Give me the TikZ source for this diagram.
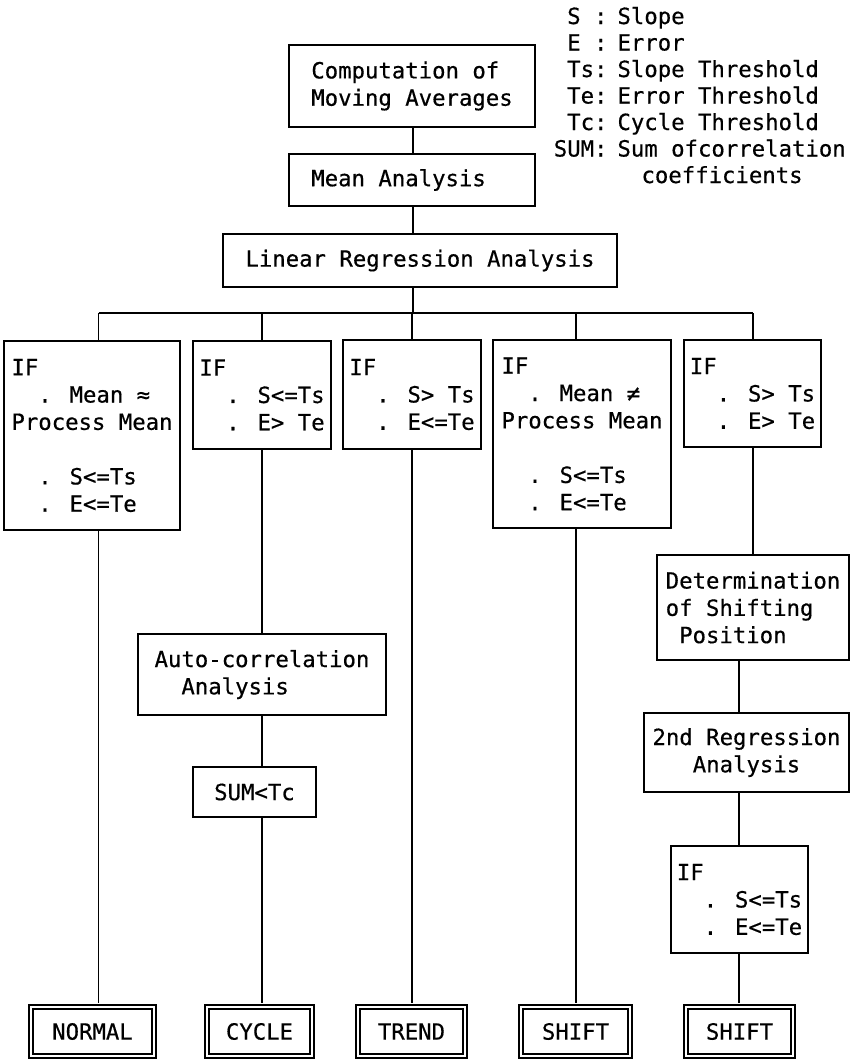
\documentclass[tikz,border=0pt]{standalone}
\usepackage{fontspec}
\usepackage{tikz}
\newfontfamily\flowfont[FakeBold=0.5]{DejaVu Sans Mono}
\def\flowsize{\flowfont\fontsize{22.3}{27.3}\selectfont}
\tikzset{
	box/.style={draw, line width=1.6pt, inner sep=0pt, align=left, font=\flowsize},
	endbox/.style={box, double, double distance=2.3pt, align=center},
	wire/.style={line width=1.5pt},
	lastwire/.style={wire, shorten >=2.8pt},
}

\begin{document}
\begin{tikzpicture}[x=1pt, y=-1pt]
		%%%%% START %%%%%
		\useasboundingbox (0,0) rectangle (864,1061);
		
		\node[anchor=base west, inner sep=0pt, font=\flowfont\fontsize{22.3}{26.5}\selectfont] (legend) at (553.6,24)
			{\begin{tabular}[t]{@{}r@{\hspace{10pt}}l@{}}
				S :& Slope\\
				E :& Error\\
				Ts:& Slope Threshold\\
				Te:& Error Threshold\\
				Tc:& Cycle Threshold\\
				SUM:& Sum ofcorrelation\\
				& \hspace{24pt}coefficients
			\end{tabular}};
		
		\node[box, minimum width=246pt, minimum height=82pt] (comp) at (412,86) {Computation of\\Moving Averages};
		\node[box, minimum width=246pt, minimum height=52pt] (mean) at (412,180) {Mean Analysis\hphantom{XX}};
		\node[box, minimum width=394pt, minimum height=53pt] (lin) at (420,260.5) {Linear Regression Analysis};
		
		\coordinate (bus) at (413,313);
		\coordinate (c1) at (98.5,313);
		\coordinate (c2) at (262,313);
		\coordinate (c3) at (412,313);
		\coordinate (c4) at (576,313);
		\coordinate (c5) at (753,313);
		\coordinate (c6) at (739,313);
		
		\node[box, minimum width=176pt, minimum height=189pt] (if1) at (92,435.5)
			{IF\\~~. Mean ≈\\Process Mean\\[27.3pt]~~. S<=Ts\\~~. E<=Te};
		\node[box, minimum width=138pt, minimum height=108pt] (if2) at (262,395) {IF\\~~. S<=Ts\\~~. E> Te};
		\node[box, minimum width=138pt, minimum height=109pt] (if3) at (412,394.5) {IF\\~~. S> Ts\\~~. E<=Te};
		\node[box, minimum width=178pt, minimum height=188pt] (if4) at (582,434)
			{IF\\~~. Mean ≠\\Process Mean\\[27.3pt]~~. S<=Ts\\~~. E<=Te};
		\node[box, minimum width=137pt, minimum height=107pt] (if5) at (752.5,393.5) {IF\\~~. S> Ts\\~~. E> Te};
		
		\node[box, minimum width=248pt, minimum height=81pt] (auto) at (262,674.5) {Auto-correlation\\~~Analysis};
		\node[box, minimum width=123pt, minimum height=50pt] (sum) at (254.5,792) {SUM<Tc};
		
		\node[box, minimum width=192pt, minimum height=105pt] (det) at (753,607.5) {Determination\\of Shifting\\~Position};
		\node[box, align=center, minimum width=205pt, minimum height=79pt] (reg2) at (746.5,752.5) {2nd Regression\\Analysis};
		\node[box, minimum width=137pt, minimum height=107pt] (if6) at (739.5,899.5) {IF\\~~. S<=Ts\\~~. E<=Te};
		
		\node[endbox, minimum width=123pt, minimum height=49pt] (normal) at (92.5,1031.5) {NORMAL};
		\node[endbox, minimum width=105pt, minimum height=49pt] (cycle) at (259.5,1031.5) {CYCLE};
		\node[endbox, minimum width=107pt, minimum height=49pt] (trend) at (411.5,1031.5) {TREND};
		\node[endbox, minimum width=109pt, minimum height=49pt] (shifta) at (575.5,1031.5) {SHIFT};
		\node[endbox, minimum width=107pt, minimum height=49pt] (shiftb) at (739.5,1031.5) {SHIFT};
		
		\draw[wire] (comp.south -| bus) -- (mean.north -| bus);
		\draw[wire] (mean.south -| bus) -- (lin.north -| bus);
		\draw[wire] (lin.south -| bus) -- (bus);
		\draw[wire] (c1) -- (c5);
		\foreach \k in {1,...,5}
			\draw[wire] (c\k) -- (c\k |- if\k.north);
		
		\draw[lastwire] (if1.south -| c1) -- (normal.north -| c1);
		\draw[wire] (if2.south -| c2) -- (auto.north -| c2);
		\draw[wire] (auto.south -| c2) -- (sum.north -| c2);
		\draw[lastwire] (sum.south -| c2) -- (cycle.north -| c2);
		\draw[lastwire] (if3.south -| c3) -- (trend.north -| c3);
		\draw[lastwire] (if4.south -| c4) -- (shifta.north -| c4);
		\draw[wire] (if5.south -| c5) -- (det.north -| c5);
		\draw[wire] (det.south -| c6) -- (reg2.north -| c6);
		\draw[wire] (reg2.south -| c6) -- (if6.north -| c6);
		\draw[lastwire] (if6.south -| c6) -- (shiftb.north -| c6);
		
		%%%%% END %%%%%
\end{tikzpicture}
\end{document}
